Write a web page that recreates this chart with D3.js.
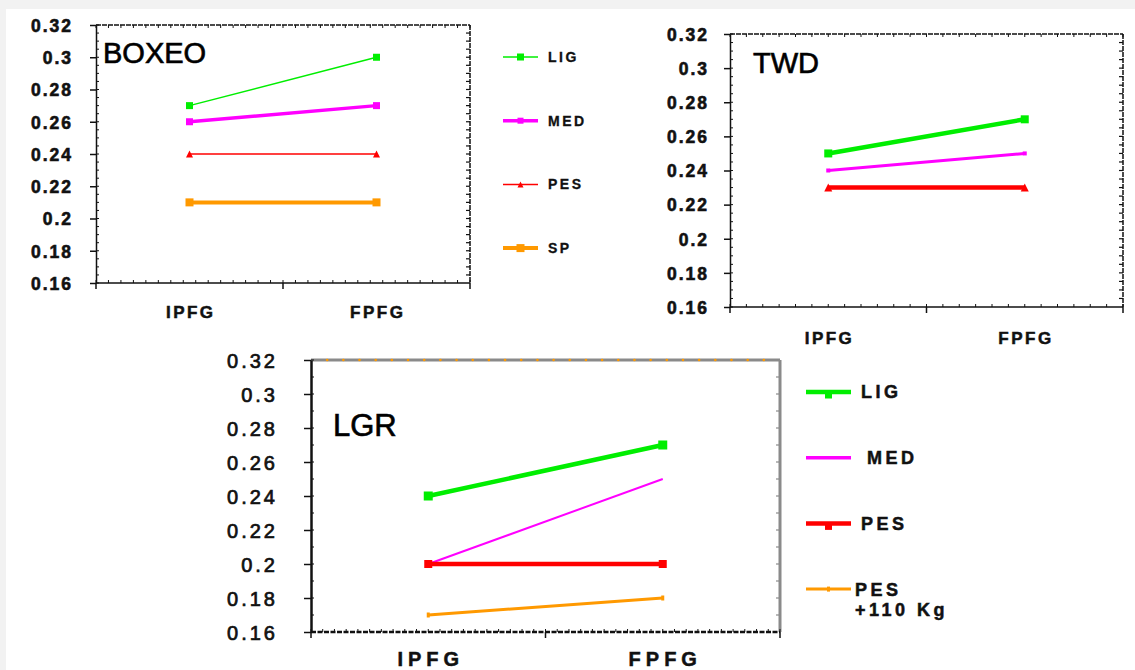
<!DOCTYPE html>
<html>
<head>
<meta charset="utf-8">
<script src="https://cdn.jsdelivr.net/npm/d3@7/dist/d3.min.js"></script>
<style>
  html, body { margin: 0; padding: 0; background: #f2f2f2; }
  svg { display: block; }
  svg text { font-family: "Liberation Sans", Arial, sans-serif; }
</style>
</head>
<body>
<script>
// Categories and axis ticks shared by all three panels
const categories = ["IPFG", "FPFG"];
const yTickValues = [0.16, 0.18, 0.2, 0.22, 0.24, 0.26, 0.28, 0.3, 0.32];

// BOXEO
const boxeoNames = ["LIG", "MED", "PES", "SP"];
const boxeoLIG = [0.27, 0.30];
const boxeoMED = [0.26, 0.27];
const boxeoPES = [0.24, 0.24];
const boxeoSP  = [0.21, 0.21];

// TWD
const twdNames = ["LIG", "MED", "PES"];
const twdLIG = [0.25, 0.27];
const twdMED = [0.24, 0.25];
const twdPES = [0.23, 0.23];

// LGR
const lgrNames = ["LIG", "MED", "PES", "PES|+110 Kg"];
const lgrLIG    = [0.24, 0.27];
const lgrMED    = [0.20, 0.25];
const lgrPES    = [0.20, 0.20];
const lgrPES110 = [0.17, 0.18];

const GREEN = "#00ee00", MAGENTA = "#ff00ff", RED = "#ff0000", ORANGE = "#ff9900";
const INK = "#111";
const fmt = v => String(+v.toFixed(2));

const svg = d3.select("body").append("svg")
  .attr("width", 1135).attr("height", 670);

svg.append("rect").attr("width", 1135).attr("height", 670).attr("fill", "#f2f2f2");
svg.append("rect").attr("x", 6).attr("y", 9).attr("width", 1129).attr("height", 661).attr("fill", "#ffffff");

// heavier glyphs: fill plus a thin outline in the same ink
function ink(sel, w) {
  return sel.attr("fill", INK).attr("stroke", INK).attr("stroke-width", w).attr("paint-order", "stroke");
}

function marker(g, shape, cx, cy, size, color) {
  if (shape === "square") {
    g.append("rect").attr("x", cx - size / 2).attr("y", cy - size / 2)
      .attr("width", size).attr("height", size).attr("fill", color);
  } else if (shape === "triangle") {
    const h = size;
    g.append("path")
      .attr("d", `M${cx},${cy - h / 2}L${cx + h / 2},${cy + h / 2}L${cx - h / 2},${cy + h / 2}Z`)
      .attr("fill", color);
  } else if (shape === "tick") {
    g.append("rect").attr("x", cx - 1.5).attr("y", cy - size / 2)
      .attr("width", 3).attr("height", size).attr("fill", color);
  }
}

function drawPanel(p) {
  const g = svg.append("g");
  const x = d3.scaleBand().domain(categories).range([p.left, p.right]);
  const cx = c => x(c) + x.bandwidth() / 2;
  const y = d3.scaleLinear().domain([0.16, 0.32]).range([p.bottom, p.top]);
  const minorY = d3.range(0.16, 0.3201, p.minorStepY);
  const minorX = d3.range(0, p.minorCountX + 1).map(i => p.left + (p.right - p.left) * i / p.minorCountX);

  // frame: top and right edges
  g.append("line").attr("x1", p.left).attr("x2", p.right).attr("y1", p.top).attr("y2", p.top)
    .attr("stroke", p.topColor).attr("stroke-width", p.topWidth).attr("stroke-dasharray", p.frameDash);
  g.append("line").attr("x1", p.right).attr("x2", p.right).attr("y1", p.top).attr("y2", p.bottom)
    .attr("stroke", p.topColor).attr("stroke-width", p.topWidth).attr("stroke-dasharray", p.frameDash);

  if (p.topDots) {
    g.selectAll(null).data(d3.range(1, 29)).enter().append("circle")
      .attr("cx", i => p.left + (p.right - p.left) * i / 29)
      .attr("cy", p.top).attr("r", 1.3).attr("fill", ORANGE);
  } else {
    g.selectAll(null).data(minorX).enter().append("line")
      .attr("x1", d => d).attr("x2", d => d).attr("y1", p.top).attr("y2", p.top + 3)
      .attr("stroke", p.topColor).attr("stroke-width", 1);
  }
  // right edge minor ticks (pointing into the plot)
  g.selectAll(null).data(p.rightTicks).enter().append("line")
    .attr("x1", p.right).attr("x2", p.right - 4)
    .attr("y1", d => y(d)).attr("y2", d => y(d))
    .attr("stroke", p.topColor).attr("stroke-width", 1.2);

  // bottom axis minor ticks
  g.selectAll(null).data(minorX).enter().append("line")
    .attr("x1", d => d).attr("x2", d => d).attr("y1", p.bottom).attr("y2", p.bottom - 3)
    .attr("stroke", INK).attr("stroke-width", 1);

  // left axis minor ticks
  g.selectAll(null).data(minorY).enter().append("line")
    .attr("x1", p.left).attr("x2", p.left + 3)
    .attr("y1", d => y(d)).attr("y2", d => y(d))
    .attr("stroke", INK).attr("stroke-width", 1);

  // y axis with labels
  const yAxis = d3.axisLeft(y).tickValues(yTickValues).tickFormat(fmt)
    .tickSize(p.majorTick).tickSizeOuter(0).tickPadding(p.labelPad);
  const ya = g.append("g").attr("transform", `translate(${p.left},0)`).call(yAxis)
    .attr("font-family", null).attr("font-size", null);
  ya.select(".domain").attr("stroke", INK).attr("stroke-width", p.leftWidth);
  ya.selectAll(".tick line").attr("stroke", INK).attr("stroke-width", 1.5);
  ink(ya.selectAll(".tick text"), p.yStroke)
    .attr("font-size", p.yFont).attr("font-weight", p.yWeight)
    .attr("letter-spacing", p.ySpacing).attr("dy", "0.36em");

  // x axis: band boundaries as major ticks, category names below
  const xb = g.append("g");
  xb.append("line").attr("x1", p.left).attr("x2", p.right).attr("y1", p.bottom).attr("y2", p.bottom)
    .attr("stroke", INK).attr("stroke-width", p.bottomWidth)
    .attr("stroke-dasharray", p.bottomDash);
  const bounds = [p.left, x(categories[1]), p.right];
  xb.selectAll(null).data(bounds).enter().append("line")
    .attr("x1", d => d).attr("x2", d => d).attr("y1", p.bottom).attr("y2", p.bottom + 6)
    .attr("stroke", INK).attr("stroke-width", 1.5);
  ink(xb.selectAll(null).data(categories).enter().append("text"), 0.5)
    .attr("x", d => cx(d) + p.xSpacing / 2).attr("y", p.xLabelY)
    .attr("text-anchor", "middle").attr("font-size", p.xFont).attr("font-weight", "bold")
    .attr("letter-spacing", p.xSpacing)
    .text(d => d);

  // title
  ink(g.append("text"), 0.7).attr("x", p.titleX).attr("y", p.titleY)
    .attr("font-size", p.titleSize).attr("fill", "#000").text(p.title);

  // series lines and end markers
  p.series.forEach(s => {
    const pts = categories.map((c, i) => [cx(c), y(s.values[i])]);
    g.append("path").attr("d", d3.line()(pts))
      .attr("fill", "none").attr("stroke", s.color).attr("stroke-width", s.width);
    pts.forEach(([px, py]) => marker(g, s.shape, px, py, s.size, s.color));
  });

  // legend
  if (p.legend) {
    const L = p.legend;
    p.series.forEach((s, i) => {
      const ly = L.y0 + i * L.step;
      g.append("line").attr("x1", L.x1).attr("x2", L.x2).attr("y1", ly).attr("y2", ly)
        .attr("stroke", s.color).attr("stroke-width", s.legendWidth || s.width);
      marker(g, s.legendShape || s.shape, (L.x1 + L.x2) / 2, ly + (s.legendDy || 0), s.legendSize || s.size, s.color);
      const lines = s.name.split("|");
      const t = ink(g.append("text"), L.stroke).attr("x", L.tx + (s.labelDx || 0)).attr("y", ly)
        .attr("font-size", L.font).attr("font-weight", "bold")
        .attr("letter-spacing", L.spacing);
      lines.forEach((ln, k) => {
        t.append("tspan").attr("x", L.tx + (s.labelDx || 0))
          .attr("dy", k === 0 ? "0.36em" : "1.15em").text(ln);
      });
    });
  }
}

// BOXEO panel
drawPanel({
  left: 96, right: 470, top: 25, bottom: 283,
  minorStepY: 0.005, minorCountX: 30,
  rightTicks: d3.range(0.165, 0.32, 0.005),
  topColor: INK, topWidth: 1.5, topDots: false, frameDash: "5,1",
  leftWidth: 1.5, bottomWidth: 1.5, bottomDash: null,
  majorTick: 6, labelPad: 17, yFont: 17.5, yWeight: "bold", ySpacing: 2, yStroke: 0.6,
  xLabelY: 318, xFont: 17, xSpacing: 2.5,
  title: "BOXEO", titleX: 103, titleY: 63, titleSize: 29,
  series: [
    { name: boxeoNames[0], values: boxeoLIG, color: GREEN,   width: 1.5, shape: "square",   size: 7 },
    { name: boxeoNames[1], values: boxeoMED, color: MAGENTA, width: 3.5, shape: "square",   size: 7, legendSize: 6 },
    { name: boxeoNames[2], values: boxeoPES, color: RED,     width: 1.5, shape: "triangle", size: 7, legendSize: 6 },
    { name: boxeoNames[3], values: boxeoSP,  color: ORANGE,  width: 4,   shape: "square",   size: 8 }
  ],
  legend: { x1: 503, x2: 538, tx: 548, y0: 57, step: 63.7, font: 14, spacing: 2.5, stroke: 0.3 }
});

// TWD panel
drawPanel({
  left: 730, right: 1123, top: 34, bottom: 307,
  minorStepY: 0.005, minorCountX: 24,
  rightTicks: d3.range(0.165, 0.32, 0.005),
  topColor: INK, topWidth: 1.5, topDots: false, frameDash: "5,1",
  leftWidth: 1.5, bottomWidth: 1.5, bottomDash: null,
  majorTick: 6, labelPad: 15, yFont: 17.5, yWeight: "bold", ySpacing: 2, yStroke: 0.6,
  xLabelY: 344, xFont: 17, xSpacing: 2.5,
  title: "TWD", titleX: 753, titleY: 73, titleSize: 29,
  series: [
    { name: twdNames[0], values: twdLIG, color: GREEN,   width: 4.5, shape: "square",   size: 8 },
    { name: twdNames[1], values: twdMED, color: MAGENTA, width: 3,   shape: "square",   size: 4 },
    { name: twdNames[2], values: twdPES, color: RED,     width: 4.5, shape: "triangle", size: 8 }
  ]
});

// LGR panel
drawPanel({
  left: 311, right: 780, top: 360, bottom: 632,
  minorStepY: 0.01, minorCountX: 40,
  rightTicks: d3.range(0.17, 0.32, 0.01),
  topColor: "#8a8a8a", topWidth: 3, topDots: true, frameDash: null,
  leftWidth: 2.5, bottomWidth: 2.5, bottomDash: "5,1.5",
  majorTick: 7, labelPad: 26, yFont: 20, yWeight: "normal", ySpacing: 3, yStroke: 0.7,
  xLabelY: 666, xFont: 20, xSpacing: 5,
  title: "LGR", titleX: 333, titleY: 436, titleSize: 31,
  series: [
    { name: lgrNames[0], values: lgrLIG,    color: GREEN,   width: 4.5, shape: "square", size: 9, legendDy: 3, legendSize: 7 },
    { name: lgrNames[1], values: lgrMED,    color: MAGENTA, width: 2,   shape: "none",   size: 0, legendWidth: 3.5, labelDx: 6 },
    { name: lgrNames[2], values: lgrPES,    color: RED,     width: 4.5, shape: "square", size: 8, legendDy: 3, legendSize: 7 },
    { name: lgrNames[3], values: lgrPES110, color: ORANGE,  width: 3,   shape: "tick",   size: 5, labelDx: -6 }
  ],
  legend: { x1: 806, x2: 851, tx: 861, y0: 392, step: 65.7, font: 18, spacing: 3.5, stroke: 0.5 }
});
</script>
</body>
</html>
